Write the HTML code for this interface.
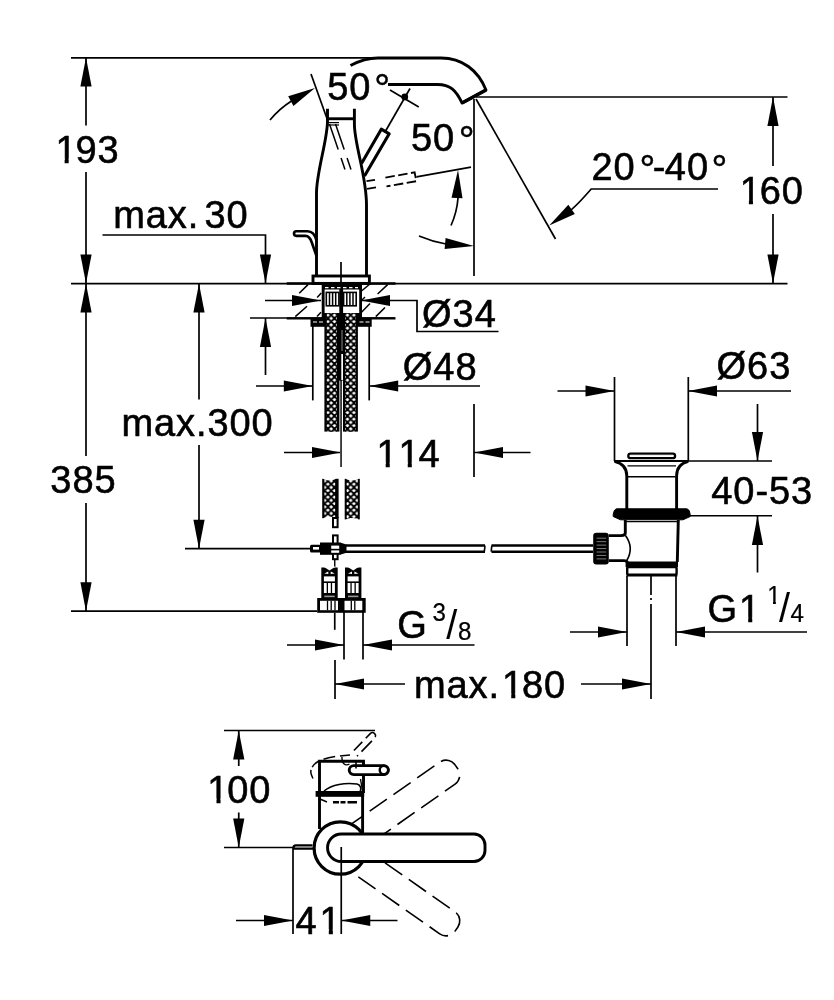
<!DOCTYPE html>
<html lang="en">
<head>
<meta charset="utf-8">
<title>Dimensional drawing</title>
<style>
html,body{margin:0;padding:0;background:#fff;}
body{width:834px;height:1000px;overflow:hidden;}
svg{display:block;filter:grayscale(1);}
svg line,svg polyline,svg path,svg circle,svg rect,svg ellipse{fill:none;stroke:#000;}
svg .f{fill:#000;stroke:none;}
svg .w{fill:#fff;}
svg text{font-family:"Liberation Sans",sans-serif;fill:#000;stroke:#000;stroke-width:0.6px;}
</style>
</head>
<body>
<svg width="834" height="1000" viewBox="0 0 834 1000">
<rect class="w" x="0" y="0" width="834" height="1000" style="stroke:none"/>
<g id="labels">
<text transform="translate(55.45 163.00) scale(0.965 1)" font-size="39.4" letter-spacing="0.95"><tspan x="0.00" y="0.00">1</tspan><tspan x="20.69" y="0.00">93</tspan></text>
<text transform="translate(113.20 228.00) scale(0.965 1)" font-size="39.4" letter-spacing="0.95"><tspan x="0.00" y="0.00">max. </tspan><tspan x="94.61" y="0.00">30</tspan></text>
<text transform="translate(50.35 493.40) scale(0.965 1)" font-size="39.4" letter-spacing="0.95"><tspan x="0.00" y="0.00">385</tspan></text>
<text transform="translate(121.40 435.80) scale(0.965 1)" font-size="39.4" letter-spacing="0.95"><tspan x="0.00" y="0.00">max.300</tspan></text>
<text transform="translate(422.10 326.75) scale(0.965 1)" font-size="39.4" letter-spacing="0.95"><tspan x="0.00" y="0.00">Ø34</tspan></text>
<text transform="translate(402.85 380.00) scale(0.965 1)" font-size="39.4" letter-spacing="0.95"><tspan x="0.00" y="0.00">Ø48</tspan></text>
<text transform="translate(376.50 467.00) scale(0.965 1)" font-size="39.4" letter-spacing="0.95"><tspan x="0.00" y="0.00">1</tspan><tspan x="22.86" y="0.00">1</tspan><tspan x="43.55" y="0.00">4</tspan></text>
<text transform="translate(716.60 379.20) scale(0.965 1)" font-size="39.4" letter-spacing="0.95"><tspan x="0.00" y="0.00">Ø63</tspan></text>
<text transform="translate(711.30 504.30) scale(0.965 1)" font-size="39.4" letter-spacing="0.95"><tspan x="0.00" y="0.00">40-53</tspan></text>
<text transform="translate(707.40 622.00) scale(0.965 1)" font-size="39.4" letter-spacing="0.95"><tspan x="0.00" y="0.00">G</tspan><tspan x="32.75" y="0.00">1</tspan><tspan x="53.43" y="0.00"> </tspan><tspan x="62.11" y="-18.00" font-size="25" stroke-width="0.25">1</tspan><tspan x="74.20" y="0.00" font-size="41" stroke-width="0">/</tspan><tspan x="86.22" y="0.00" font-size="25" stroke-width="0.25">4</tspan></text>
<text transform="translate(397.30 638.00) scale(0.965 1)" font-size="39.4" letter-spacing="0.95"><tspan x="0.00" y="0.00">G </tspan><tspan x="36.37" y="-17.50" font-size="25" stroke-width="0.25">3</tspan><tspan x="50.67" y="0.60" font-size="41" stroke-width="0">/</tspan><tspan x="62.90" y="1.50" font-size="25" stroke-width="0.25">8</tspan></text>
<text transform="translate(413.90 698.00) scale(0.965 1)" font-size="39.4" letter-spacing="0.95"><tspan x="0.00" y="0.00">max.</tspan><tspan x="91.36" y="0.00">1</tspan><tspan x="112.04" y="0.00">80</tspan></text>
<text transform="translate(739.70 204.00) scale(0.965 1)" font-size="39.4" letter-spacing="0.95"><tspan x="0.00" y="0.00">1</tspan><tspan x="20.69" y="0.00">60</tspan></text>
<text transform="translate(591.55 180.00) scale(0.965 1)" font-size="39.4" letter-spacing="0.95"><tspan x="0.00" y="0.00">20</tspan><tspan x="49.59" y="3.00" font-size="41" stroke-width="0.5">°</tspan><tspan x="63.42" y="0.00">-</tspan><tspan x="75.96" y="0.00">40</tspan><tspan x="124.40" y="3.00" font-size="41" stroke-width="0.5">°</tspan></text>
<text transform="translate(327.20 100.00) scale(0.965 1)" font-size="39.4" letter-spacing="0.95"><tspan x="0.00" y="0.00">50</tspan><tspan x="48.81" y="2.20" font-size="41" stroke-width="0.5">°</tspan></text>
<text transform="translate(410.90 150.50) scale(0.965 1)" font-size="39.4" letter-spacing="0.95"><tspan x="0.00" y="0.00">50</tspan><tspan x="49.69" y="3.50" font-size="41" stroke-width="0.5">°</tspan></text>
<text transform="translate(207.30 803.00) scale(0.965 1)" font-size="39.4" letter-spacing="0.95"><tspan x="0.00" y="0.00">1</tspan><tspan x="20.69" y="0.00">00</tspan></text>
<text transform="translate(295.45 933.75) scale(0.965 1)" font-size="39.4" letter-spacing="0.95"><tspan x="0.00" y="0.00">4</tspan><tspan x="25.04" y="0.00">1</tspan></text>
</g>
<g id="masks">
<rect class="w" x="56.59" y="158.47" width="8.04" height="6.73" style="stroke:none"/>
<rect class="w" x="68.70" y="158.47" width="8.04" height="6.73" style="stroke:none"/>
<rect class="w" x="377.64" y="462.47" width="8.04" height="6.73" style="stroke:none"/>
<rect class="w" x="389.75" y="462.47" width="8.04" height="6.73" style="stroke:none"/>
<rect class="w" x="399.70" y="462.47" width="8.04" height="6.73" style="stroke:none"/>
<rect class="w" x="411.81" y="462.47" width="8.04" height="6.73" style="stroke:none"/>
<rect class="w" x="740.14" y="617.47" width="8.04" height="6.73" style="stroke:none"/>
<rect class="w" x="752.25" y="617.47" width="8.04" height="6.73" style="stroke:none"/>
<rect class="w" x="768.06" y="601.12" width="4.97" height="5.08" style="stroke:none"/>
<rect class="w" x="775.87" y="601.12" width="4.97" height="5.08" style="stroke:none"/>
<rect class="w" x="503.20" y="693.47" width="8.04" height="6.73" style="stroke:none"/>
<rect class="w" x="515.31" y="693.47" width="8.04" height="6.73" style="stroke:none"/>
<rect class="w" x="740.84" y="199.47" width="8.04" height="6.73" style="stroke:none"/>
<rect class="w" x="752.95" y="199.47" width="8.04" height="6.73" style="stroke:none"/>
<rect class="w" x="208.44" y="798.47" width="8.04" height="6.73" style="stroke:none"/>
<rect class="w" x="220.55" y="798.47" width="8.04" height="6.73" style="stroke:none"/>
<rect class="w" x="320.75" y="929.22" width="8.04" height="6.73" style="stroke:none"/>
<rect class="w" x="332.86" y="929.22" width="8.04" height="6.73" style="stroke:none"/>
</g>
<g id="dims">
<line x1="71" y1="57.9" x2="380" y2="57.9" stroke-width="1.7" />
<line x1="86" y1="57.5" x2="86" y2="125.5" stroke-width="1.7" />
<line x1="86" y1="172" x2="86" y2="283" stroke-width="1.7" />
<polygon class="f" points="86.00,57.50 91.60,86.50 80.40,86.50"/>
<polygon class="f" points="86.00,283.60 80.40,254.60 91.60,254.60"/>
<line x1="71" y1="283.6" x2="787.5" y2="283.6" stroke-width="1.7" />
<line x1="86" y1="283" x2="86" y2="456" stroke-width="1.7" />
<line x1="86" y1="503" x2="86" y2="611.2" stroke-width="1.7" />
<polygon class="f" points="86.00,283.60 91.60,312.60 80.40,312.60"/>
<polygon class="f" points="86.00,611.20 80.40,582.20 91.60,582.20"/>
<line x1="71" y1="611.2" x2="317" y2="611.2" stroke-width="1.7" />
<polyline points="102.5,235 265.5,235 265.5,283" stroke-width="1.7" />
<polygon class="f" points="265.50,283.60 259.90,254.60 271.10,254.60"/>
<line x1="265.5" y1="318" x2="265.5" y2="375" stroke-width="1.7" />
<polygon class="f" points="265.50,318.00 271.10,347.00 259.90,347.00"/>
<line x1="250" y1="318" x2="395" y2="318" stroke-width="1.7" />
<line x1="265" y1="300.5" x2="321" y2="300.5" stroke-width="1.7" />
<polygon class="f" points="321.00,300.50 292.00,306.10 292.00,294.90"/>
<polyline points="361,300.5 417,300.5 417,331.5 498.5,331.5" stroke-width="1.7" />
<polygon class="f" points="361.00,300.50 390.00,294.90 390.00,306.10"/>
<line x1="199" y1="283" x2="199" y2="399.5" stroke-width="1.7" />
<line x1="199" y1="445" x2="199" y2="548.7" stroke-width="1.7" />
<polygon class="f" points="199.00,283.60 204.60,312.60 193.40,312.60"/>
<polygon class="f" points="199.00,548.70 193.40,519.70 204.60,519.70"/>
<line x1="185" y1="548.7" x2="310" y2="548.7" stroke-width="1.7" />
<line x1="256" y1="386" x2="312.8" y2="386" stroke-width="1.7" />
<polygon class="f" points="312.80,386.00 283.80,391.60 283.80,380.40"/>
<line x1="369.2" y1="386" x2="480" y2="386" stroke-width="1.7" />
<polygon class="f" points="369.20,386.00 398.20,380.40 398.20,391.60"/>
<line x1="312.8" y1="325" x2="312.8" y2="400.4" stroke-width="1.7" />
<line x1="369.2" y1="325" x2="369.2" y2="400.4" stroke-width="1.7" />
<line x1="284" y1="452.5" x2="341" y2="452.5" stroke-width="1.7" />
<polygon class="f" points="341.00,452.50 312.00,458.10 312.00,446.90"/>
<line x1="474" y1="452.5" x2="530.5" y2="452.5" stroke-width="1.7" />
<polygon class="f" points="474.00,452.50 503.00,446.90 503.00,458.10"/>
<line x1="474" y1="404" x2="474" y2="477" stroke-width="1.7" />
<line x1="341" y1="262" x2="341" y2="467" stroke-width="1.7" />
<line x1="557.5" y1="391" x2="614.5" y2="391" stroke-width="1.7" />
<polygon class="f" points="614.50,391.00 585.50,396.60 585.50,385.40"/>
<line x1="688" y1="391" x2="791" y2="391" stroke-width="1.7" />
<polygon class="f" points="688.00,391.00 717.00,385.40 717.00,396.60"/>
<line x1="614.5" y1="377" x2="614.5" y2="461" stroke-width="1.7" />
<line x1="688.3" y1="377" x2="688.3" y2="461" stroke-width="1.7" />
<line x1="757.5" y1="404" x2="757.5" y2="461" stroke-width="1.7" />
<polygon class="f" points="757.50,461.00 751.90,432.00 763.10,432.00"/>
<line x1="688" y1="461" x2="772" y2="461" stroke-width="1.7" />
<line x1="690" y1="515.75" x2="772" y2="515.75" stroke-width="1.7" />
<line x1="757.5" y1="516" x2="757.5" y2="572.5" stroke-width="1.7" />
<polygon class="f" points="757.50,516.00 763.10,545.00 751.90,545.00"/>
<line x1="570" y1="632" x2="627" y2="632" stroke-width="1.7" />
<polygon class="f" points="627.00,632.00 598.00,637.60 598.00,626.40"/>
<line x1="676" y1="632" x2="807" y2="632" stroke-width="1.7" />
<polygon class="f" points="676.00,632.00 705.00,626.40 705.00,637.60"/>
<line x1="627" y1="576" x2="627" y2="646" stroke-width="1.7" />
<line x1="676" y1="576" x2="676" y2="646" stroke-width="1.7" />
<line x1="335" y1="684" x2="405" y2="684" stroke-width="1.7" />
<polygon class="f" points="335.00,684.00 364.00,678.40 364.00,689.60"/>
<line x1="581" y1="684" x2="651" y2="684" stroke-width="1.7" />
<polygon class="f" points="651.00,684.00 622.00,689.60 622.00,678.40"/>
<line x1="335" y1="660" x2="335" y2="699" stroke-width="1.7" />
<line x1="651" y1="576" x2="651" y2="595" stroke-width="1.7" />
<line x1="651" y1="598" x2="651" y2="600" stroke-width="1.7" />
<line x1="651" y1="604" x2="651" y2="699" stroke-width="1.7" />
<line x1="287" y1="645" x2="344" y2="645" stroke-width="1.7" />
<polygon class="f" points="344.00,645.00 315.00,650.60 315.00,639.40"/>
<line x1="363" y1="645" x2="474.5" y2="645" stroke-width="1.7" />
<polygon class="f" points="363.00,645.00 392.00,639.40 392.00,650.60"/>
<line x1="344" y1="612" x2="344" y2="659.5" stroke-width="1.7" />
<line x1="363" y1="612" x2="363" y2="659.5" stroke-width="1.7" />
<line x1="476" y1="97" x2="787.5" y2="97" stroke-width="1.7" />
<line x1="773" y1="97" x2="773" y2="166" stroke-width="1.7" />
<line x1="773" y1="214" x2="773" y2="283" stroke-width="1.7" />
<polygon class="f" points="773.00,97.00 778.60,126.00 767.40,126.00"/>
<polygon class="f" points="773.00,283.60 767.40,254.60 778.60,254.60"/>
<line x1="474" y1="99" x2="474" y2="276" stroke-width="1.7" />
<line x1="476" y1="99" x2="555.5" y2="239" stroke-width="1.7" />
<path d="M718,189 L591.2,189 Q576.4,206 570,210.6" stroke-width="1.7" />
<polygon class="f" points="549.20,225.40 568.34,204.87 574.84,213.99"/>
<line x1="224" y1="730.5" x2="375" y2="730.5" stroke-width="1.7" />
<line x1="224" y1="847.5" x2="293" y2="847.5" stroke-width="1.7" />
<line x1="238.75" y1="730.5" x2="238.75" y2="766" stroke-width="1.7" />
<line x1="238.75" y1="812.5" x2="238.75" y2="847.5" stroke-width="1.7" />
<polygon class="f" points="238.75,730.50 244.35,759.50 233.15,759.50"/>
<polygon class="f" points="238.75,847.50 233.15,818.50 244.35,818.50"/>
<line x1="293" y1="847.5" x2="293" y2="934" stroke-width="1.7" />
<line x1="236" y1="920.5" x2="293" y2="920.5" stroke-width="1.7" />
<polygon class="f" points="293.00,920.50 264.00,926.10 264.00,914.90"/>
<line x1="341.25" y1="920.5" x2="397.5" y2="920.5" stroke-width="1.7" />
<polygon class="f" points="341.25,920.50 370.25,914.90 370.25,926.10"/>
</g>
<g id="faucet-side">
<path d="M350.5,65.6 C358,61.5 366,58 378,58 L441,58 C462,58 478,70 486,90 L462,103 C456,90 450,84.5 437.5,84.5 L388,84.5" stroke-width="2.9" stroke-linejoin="round"/>
<line x1="486" y1="90" x2="462" y2="103" stroke-width="3.6" />
<path d="M316.5,276 L316.5,193 C316.5,172 327.5,140 327.5,121 L327.5,108.75" stroke-width="2.9" />
<path d="M366.5,276 L366.5,205 C366.5,175 354.4,145 354.4,124 L354.4,108.75" stroke-width="2.9" />
<line x1="327.5" y1="118.75" x2="354.4" y2="118.75" stroke-width="2.9" />
<line x1="327" y1="122.6" x2="339" y2="122.6" stroke-width="1.2" />
<line x1="327" y1="125" x2="339" y2="125" stroke-width="1.2" />
<rect x="313" y="276" width="56.4" height="7.4" stroke-width="2.9"/>
<path d="M316.5,240.5 C315,234.5 312.5,231.3 307.5,231.3 L296.3,231.3 A2.3,2.3 0 0 0 296.3,235.9 L305.5,235.9 C309,235.9 310.5,238.5 311.8,242.5 L316.5,256" stroke-width="2.6" stroke-linejoin="round"/>
<path d="M361.5,163.5 L381.3,129.2 L389.2,133.8 L364.5,176" stroke-width="3.1" stroke-linejoin="round"/>
<line x1="385.3" y1="131.5" x2="410" y2="88.5" stroke-width="1.7" />
<line x1="390" y1="90" x2="418.75" y2="106.9" stroke-width="1.7" />
<circle class="f" cx="404.75" cy="96.9" r="3.4"/>
<polyline points="366.5,181.2 375,179.8" stroke-width="1.8" />
<polyline points="367,188.8 376,187.3" stroke-width="1.8" />
<polyline points="385.4,177.6 414.6,172.4 416.4,181.2 386.5,186.4" stroke-width="1.9" stroke-dasharray="9.5 3.5"/>
<line x1="416.5" y1="176.8" x2="471" y2="167.2" stroke-width="1.7" />
<line x1="311" y1="74" x2="327.5" y2="120" stroke-width="1.7" />
<line x1="329.5" y1="124" x2="346" y2="172.5" stroke-width="1.5" stroke-dasharray="27 9 12 9"/>
<line x1="335.5" y1="124" x2="351.5" y2="171" stroke-width="1.5" stroke-dasharray="27 9 12 9"/>
<path d="M270,120 Q279,109 291.5,101" stroke-width="1.7" />
<polygon class="f" points="315.00,88.00 293.46,105.96 288.21,96.29"/>
<path d="M458,198 Q457,212 451,225.5" stroke-width="1.7" />
<polygon class="f" points="458.00,170.00 462.52,198.17 451.53,197.79"/>
<path d="M419,236 Q432,241.5 446,244" stroke-width="1.7" />
<polygon class="f" points="474.00,246.00 444.63,248.95 445.59,237.99"/>
</g>
<g id="deck">
<line x1="286.7" y1="283.5" x2="395.5" y2="283.5" stroke-width="2.4" />
<line x1="286.7" y1="318.4" x2="323" y2="318.4" stroke-width="2.3" />
<line x1="361" y1="318.4" x2="395.5" y2="318.4" stroke-width="2.3" />
<line x1="299.2" y1="293.3" x2="308" y2="284.6" stroke-width="1.5" />
<line x1="317.2" y1="297.6" x2="321.2" y2="293" stroke-width="1.5" />
<line x1="295.3" y1="316.6" x2="307" y2="306.3" stroke-width="1.5" />
<line x1="317" y1="316.5" x2="321" y2="312.3" stroke-width="1.5" />
<line x1="361.5" y1="291" x2="369.6" y2="284.2" stroke-width="1.5" />
<line x1="377.6" y1="294" x2="387.6" y2="284.6" stroke-width="1.5" />
<line x1="361.5" y1="312.3" x2="370" y2="303.6" stroke-width="1.5" />
<line x1="375.8" y1="316.6" x2="385" y2="307.5" stroke-width="1.5" />
<line x1="362" y1="300" x2="365" y2="297" stroke-width="1.5" />
<rect class="f" x="321.7" y="283" width="40.3" height="36"/>
<rect class="w" x="324.6" y="289.5" width="34.6" height="23.5" style="stroke:none"/>
<rect class="f" x="339.3" y="283" width="3.8" height="32"/>
<line x1="325" y1="287.6" x2="358" y2="287.6" stroke-width="1.2" style="stroke:#fff" stroke-dasharray="3.5 2.5"/>
<rect x="326.3" y="292.4" width="12.6" height="13.4" stroke-width="1.6"/>
<line x1="329.5" y1="293" x2="329.5" y2="305.5" stroke-width="1.5" />
<line x1="332.6" y1="293" x2="332.6" y2="305.5" stroke-width="1.5" />
<line x1="335.7" y1="293" x2="335.7" y2="305.5" stroke-width="1.5" />
<rect x="343.6" y="292.4" width="12.6" height="13.4" stroke-width="1.6"/>
<line x1="346.8" y1="293" x2="346.8" y2="305.5" stroke-width="1.5" />
<line x1="349.90000000000003" y1="293" x2="349.90000000000003" y2="305.5" stroke-width="1.5" />
<line x1="353.0" y1="293" x2="353.0" y2="305.5" stroke-width="1.5" />
<rect class="f" x="310.5" y="318.2" width="61.2" height="8.6"/>
<line x1="313" y1="322" x2="323.5" y2="322" stroke-width="1.1" style="stroke:#fff" stroke-dasharray="4 2"/>
<line x1="359.5" y1="322" x2="370" y2="322" stroke-width="1.1" style="stroke:#fff" stroke-dasharray="4 2"/>
<defs><pattern id="mesh" x="331.2" y="331.4" width="6.5" height="6.5" patternUnits="userSpaceOnUse">
<rect x="0" y="0" width="6.5" height="6.5" style="fill:#fff;stroke:none"/>
<path d="M3.25,0 L6.5,3.25 M0,3.25 L3.25,6.5 M0,3.25 L3.25,0 M3.25,6.5 L6.5,3.25" style="fill:none;stroke:#000" stroke-width="1.85" stroke-linecap="square"/>
</pattern></defs>
<rect class="f" x="324.4" y="313" width="15.00" height="118.60"/>
<rect x="326.7" y="313" width="10.30" height="118.60" style="fill:url(#mesh);stroke:none"/>
<rect class="f" x="343" y="313" width="14.90" height="118.60"/>
<rect x="345" y="313" width="11.00" height="118.60" style="fill:url(#mesh);stroke:none"/>
<rect class="f" x="337" y="313" width="8" height="67.6"/>
<rect class="w" x="341.3" y="354" width="1.7" height="26" style="stroke:none"/>
<line x1="342" y1="330" x2="342" y2="351" stroke-width="0.8" style="stroke:#aaa"/>
<line x1="340.8" y1="381" x2="340.8" y2="467" stroke-width="1.0" style="stroke:#666"/>
<rect class="f" x="322.2" y="478.8" width="16.40" height="39.40"/>
<rect x="324.4" y="478.8" width="10.80" height="39.40" style="fill:url(#mesh);stroke:none"/>
<rect class="f" x="344.7" y="478.8" width="15.10" height="40.60"/>
<rect x="346.6" y="478.8" width="11.20" height="40.60" style="fill:url(#mesh);stroke:none"/>
<ellipse class="w" cx="329.5" cy="478.2" rx="6" ry="2.3" style="stroke:none"/>
<ellipse class="w" cx="352.2" cy="478.2" rx="6.2" ry="2.3" style="stroke:none"/>
<ellipse class="w" cx="352.2" cy="520.2" rx="6.2" ry="2.3" style="stroke:none"/>
<ellipse class="w" cx="329" cy="518.8" rx="5.5" ry="2.3" style="stroke:none"/>
<rect x="333" y="518" width="4.6" height="9.2" stroke-width="2" class="w"/>
<rect x="333" y="535.4" width="4.6" height="23.8" stroke-width="2" class="w"/>
<rect class="f" x="320" y="542.5" width="20.5" height="12.3"/>
<rect class="f" x="310" y="544.7" width="11" height="7.8" rx="1.5"/>
<rect class="w" x="313" y="547" width="6" height="2.6" style="stroke:none"/>
<rect class="w" x="331.2" y="545.6" width="8" height="3.2" style="stroke:none"/>
<rect class="w" x="331.2" y="550.4" width="8" height="2.4" style="stroke:none"/>
<polygon class="f" points="340,542.5 346.5,544.6 346.5,552.7 340,554.8"/>
<line x1="346" y1="545.4" x2="485" y2="545.4" stroke-width="2.5" />
<line x1="346" y1="551.8" x2="485" y2="551.8" stroke-width="2.5" />
<line x1="491.5" y1="545.4" x2="593" y2="545.4" stroke-width="2.5" />
<line x1="491.5" y1="551.8" x2="593" y2="551.8" stroke-width="2.5" />
<line x1="485" y1="545.6" x2="484.3" y2="551.6" stroke-width="1.6" />
<line x1="491.8" y1="545.6" x2="491.2" y2="551.6" stroke-width="1.6" />
<line x1="334.75" y1="560" x2="334.75" y2="567" stroke-width="1.4" />
<rect class="f" x="321.3" y="567.5" width="16.4" height="31"/>
<polygon class="w" points="323.3,566.5 329.5,570.5 335.7,566.5" style="stroke:none"/>
<polygon class="w" points="324.3,573.5 328.3,571.5 328.3,574" style="stroke:none"/>
<polygon class="w" points="334.7,573.5 330.7,571.5 330.7,574" style="stroke:none"/>
<rect class="w" x="323.90000000000003" y="576.4" width="10.999999999999998" height="5" style="stroke:none"/>
<rect class="w" x="323.90" y="583" width="2.80" height="10" style="stroke:none"/>
<rect class="w" x="328.00" y="583" width="2.80" height="10" style="stroke:none"/>
<rect class="w" x="332.10" y="583" width="2.80" height="10" style="stroke:none"/>
<rect x="324.3" y="595.6" width="10.399999999999999" height="1.6" style="fill:#999;stroke:none"/>
<rect class="f" x="345" y="567.5" width="16.4" height="31"/>
<polygon class="w" points="347,566.5 353.2,570.5 359.4,566.5" style="stroke:none"/>
<polygon class="w" points="348,573.5 352.0,571.5 352.0,574" style="stroke:none"/>
<polygon class="w" points="358.4,573.5 354.4,571.5 354.4,574" style="stroke:none"/>
<rect class="w" x="347.6" y="576.4" width="10.999999999999998" height="5" style="stroke:none"/>
<rect class="w" x="347.60" y="583" width="2.80" height="10" style="stroke:none"/>
<rect class="w" x="351.70" y="583" width="2.80" height="10" style="stroke:none"/>
<rect class="w" x="355.80" y="583" width="2.80" height="10" style="stroke:none"/>
<rect x="348" y="595.6" width="10.399999999999999" height="1.6" style="fill:#999;stroke:none"/>
<rect class="f" x="317.2" y="598" width="48.5" height="14.8"/>
<rect class="w" x="320" y="600.8" width="18" height="9.4" style="stroke:none"/>
<rect class="w" x="344.5" y="600.8" width="17.8" height="9.4" style="stroke:none"/>
<line x1="327.5" y1="600.8" x2="327.5" y2="610.2" stroke-width="1.3" />
<line x1="331.2" y1="600.8" x2="331.2" y2="610.2" stroke-width="1.3" />
<line x1="335" y1="600.8" x2="335" y2="610.2" stroke-width="1.3" />
<line x1="351.3" y1="600.8" x2="351.3" y2="610.2" stroke-width="1.3" />
<line x1="354.8" y1="600.8" x2="354.8" y2="610.2" stroke-width="1.3" />
<line x1="334.75" y1="612.8" x2="334.75" y2="629.8" stroke-width="1.7" />
</g>
<g id="drain">
<rect x="628.3" y="453.6" width="46.8" height="4.6" rx="2.3" stroke-width="2.3" class="w"/>
<line x1="630.5" y1="454.6" x2="672.8" y2="454.6" stroke-width="0.9" style="stroke:#555"/>
<line x1="614" y1="461" x2="688.5" y2="461" stroke-width="2.2" />
<path d="M614.5,461.3 C622,463 626.8,467 626.8,476 L626.8,509" stroke-width="2.9" />
<path d="M688.3,461.3 C681,463 676.6,467 676.6,476 L676.6,509" stroke-width="2.9" />
<line x1="627.5" y1="465.9" x2="676" y2="465.9" stroke-width="1.3" />
<line x1="628" y1="476.8" x2="675.5" y2="476.8" stroke-width="1.5" />
<path d="M617,508.8 L686.5,508.8 C688.5,508.8 689.6,511 690.2,514.5 L690.2,516.5 L683,519.8 L620.5,519.8 L613.2,516.5 L613.2,514.5 C613.8,511 615,508.8 617,508.8 Z" stroke-width="1" class="f" style="stroke:#000"/>
<line x1="626" y1="521.6" x2="678" y2="521.6" stroke-width="1.3" />
<path d="M625.3,520 L625.3,533 C625.3,535 623.5,535.6 621,535.6 L609,535.6" stroke-width="2.9" />
<path d="M609,560.6 L624,560.6 C626,560.6 627,561.3 627.5,562.5" stroke-width="2.9" />
<path d="M625.5,535.5 Q634.5,548 626.5,561" stroke-width="1.6" />
<path d="M678.3,520 L677.3,562" stroke-width="2.9" />
<rect class="f" x="593.2" y="532.7" width="15.6" height="31.8" rx="3.2"/>
<line x1="596.6" y1="538.2" x2="606.2" y2="538.2" stroke-width="0.9" style="stroke:#8a8a8a"/>
<line x1="596.6" y1="541.6500000000001" x2="606.2" y2="541.6500000000001" stroke-width="0.9" style="stroke:#8a8a8a"/>
<line x1="596.6" y1="545.1" x2="606.2" y2="545.1" stroke-width="0.9" style="stroke:#8a8a8a"/>
<line x1="596.6" y1="548.5500000000001" x2="606.2" y2="548.5500000000001" stroke-width="0.9" style="stroke:#8a8a8a"/>
<line x1="596.6" y1="552.0" x2="606.2" y2="552.0" stroke-width="0.9" style="stroke:#8a8a8a"/>
<line x1="596.6" y1="555.45" x2="606.2" y2="555.45" stroke-width="0.9" style="stroke:#8a8a8a"/>
<line x1="596.6" y1="558.9000000000001" x2="606.2" y2="558.9000000000001" stroke-width="0.9" style="stroke:#8a8a8a"/>
<rect class="f" x="625.6" y="561.5" width="52.4" height="5.6"/>
<rect x="627.2" y="567" width="49.4" height="7.6" rx="1.5" stroke-width="2.4"/>
<line x1="626.4" y1="575.2" x2="677.4" y2="575.2" stroke-width="2.6" />
</g>
<g id="topview">
<g transform="rotate(-35 340.5 848)">
<path d="M362.5,834.6 L471.0,834.6 A11,11 0 0 1 482.0,845.6 L482.0,850.4 A11,11 0 0 1 471.0,861.4 L362.5,861.4" stroke-width="1.6" stroke-dasharray="21 8" stroke-dashoffset="6"/>
</g>
<g transform="rotate(35 340.5 848)">
<path d="M362.5,834.6 L471.0,834.6 A11,11 0 0 1 482.0,845.6 L482.0,850.4 A11,11 0 0 1 471.0,861.4 L362.5,861.4" stroke-width="1.6" stroke-dasharray="21 8" stroke-dashoffset="6"/>
</g>
<path d="M319.5,829 L319.5,761.3 L363.5,761.3 L363.5,793 M362.6,793 L362.6,833" stroke-width="2.9" stroke-linejoin="miter"/>
<rect class="f" x="315.6" y="791" width="48.6" height="5.8"/>
<path d="M324,791 C332,784.5 345,782.4 357,784 C361,785 361.5,789.5 360,791" stroke-width="1.6" />
<line x1="360.5" y1="779" x2="362.5" y2="791" stroke-width="1.4" />
<line x1="333" y1="802.2" x2="357" y2="802.2" stroke-width="2.6" stroke-dasharray="6 1.5 5 2 9 0"/>
<line x1="320" y1="799" x2="327" y2="802" stroke-width="1.4" />
<path d="M318.8,761 C312,765 309.5,770 311.5,775 L314,781" stroke-width="1.5" stroke-dasharray="9 3"/>
<path d="M323.5,759.3 C330,757 340,755.6 350,755" stroke-width="1.5" stroke-dasharray="12 5"/>
<path d="M342,757 C341.5,763 345,766.5 349.5,764" stroke-width="1.4" />
<g transform="rotate(-46 352 757)">
<path d="M358,753.9 L381.5,753.9 A3.1,3.1 0 0 1 381.5,760.1 L356,760.1" stroke-width="1.6" stroke-dasharray="15 5" stroke-dashoffset="3"/>
</g>
<rect x="349.2" y="765.6" width="39.2" height="9" rx="4.5" stroke-width="2.9" class="w"/>
<circle cx="384" cy="770.1" r="4.3" stroke-width="2.4"/>
<line x1="356" y1="762" x2="356" y2="768.5" stroke-width="1.6" />
<circle cx="340.3" cy="848" r="26.2" stroke-width="3.2"/>
<path d="M322,829 A26,26 0 0 1 360,831" stroke-width="1.2" />
<path class="w" d="M341.3,834 L474,834 A11,11 0 0 1 485,845 L485,850.5 A11,11 0 0 1 474,861.5 L341.3,861.5 A13.75,13.75 0 0 1 341.3,834 Z" stroke-width="2.9"/>
<line x1="341.25" y1="847" x2="341.25" y2="934" stroke-width="1.7" />
<path d="M312.5,845.4 L295.8,845.4 Q293.4,845.4 293.4,848 M293,848.6 L313,848.6" stroke-width="2.2" />
</g>
</svg>
</body>
</html>
